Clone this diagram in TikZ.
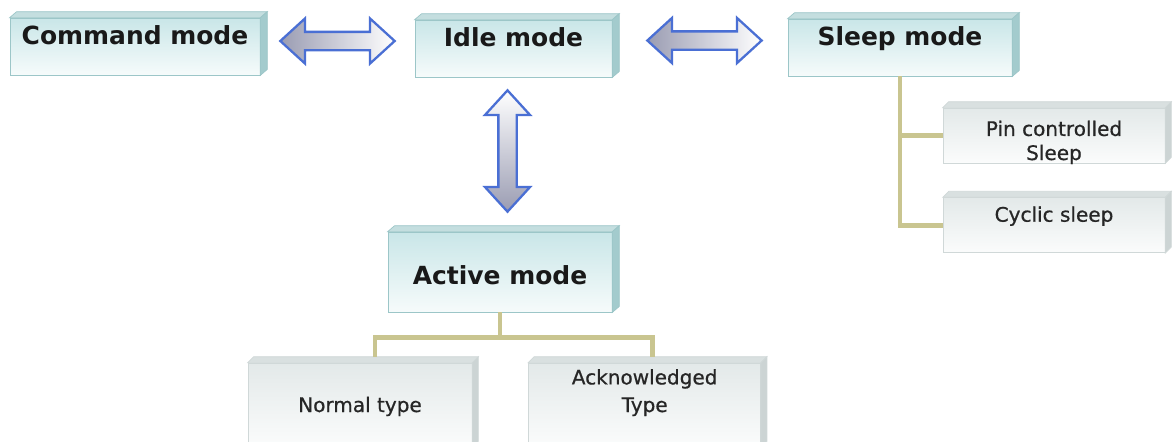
\documentclass[tikz,border=0pt]{standalone}
\usepackage{fontspec}
\setmainfont{DejaVu Sans}
\newfontfamily\typefont{DejaVu Sans}[FakeBold=0.7]
\usepackage{xcolor}
\usepackage{tikz}
\usetikzlibrary{positioning, calc}
\definecolor{modeline}{HTML}{9CC6C8}
\definecolor{modetop}{HTML}{C9E6E8}
\definecolor{modebot}{HTML}{F6FBFB}
\definecolor{modelid}{HTML}{C4DEDF}
\definecolor{modeflank}{HTML}{A3CBCD}
\definecolor{typeline}{HTML}{D0D8D8}
\definecolor{typetop}{HTML}{E3E9E9}
\definecolor{typebot}{HTML}{FBFCFC}
\definecolor{typelid}{HTML}{D9E0E0}
\definecolor{typeflank}{HTML}{CCD4D4}
\definecolor{arrowblue}{HTML}{4A6FD4}
\definecolor{arrowgray}{HTML}{9A9CB2}
\definecolor{branchcol}{HTML}{C9C590}
\tikzstyle{modebox} = [rectangle, draw=modeline, top color=modetop, bottom color=modebot, inner sep=0pt, text centered, text height=0.52cm, text depth=0.62cm, font=\fontsize{14.2}{17}\selectfont\bfseries, text=black!90]
\tikzstyle{typebox} = [rectangle, draw=typeline, top color=typetop, bottom color=typebot, inner sep=0pt, align=center, font=\fontsize{11.4}{13.7}\selectfont\typefont, text=black!85]
\tikzstyle{modelid} = [draw=modeline, fill=modelid, thin]
\tikzstyle{modeflank} = [draw=modeline, fill=modeflank, thin]
\tikzstyle{typelid} = [draw=typeline, fill=typelid, thin]
\tikzstyle{typeflank} = [draw=typeline, fill=typeflank, thin]
\tikzstyle{branch} = [draw=branchcol, line width=2.8pt]
\tikzstyle{bigarrow} = [draw=arrowblue, line width=1.3pt, line join=miter]
% block double arrow between two points
\newcommand{\modearrow}[3][]{%
  \path[bigarrow,#1] let \p1=#2, \p2=#3, \n1={veclen(\x2-\x1,\y2-\y1)}, \n2={atan2(\y2-\y1,\x2-\x1)} in
    [shift={(\p1)}, rotate=\n2]
    (0pt,0pt) -- (14pt,12.8pt) -- (14pt,5.2pt) -- ({\n1-14pt},5.2pt) -- ({\n1-14pt},12.8pt) -- (\n1,0pt)
    -- ({\n1-14pt},-12.8pt) -- ({\n1-14pt},-5.2pt) -- (14pt,-5.2pt) -- (14pt,-12.8pt) -- cycle;}

\begin{document}
\begin{tikzpicture}[x=0.02cm, y=-0.02cm]
    \useasboundingbox (0,0) rectangle (1173,441);
    \clip (0,0) rectangle (1173,441);
    \fill[white] (0,0) rectangle (1173,441);

    \node (cmd) [modebox, minimum width=5cm] at (135,46.5) {Command mode};
    \node (idle) [modebox, minimum width=3.94cm] at (513.5,48.5) {Idle mode};
    \node (sleep) [modebox, minimum width=4.48cm] at (900,47.5) {Sleep mode};
    \node (active) [modebox, minimum width=4.48cm, text height=1.04cm, text depth=0.56cm] at (500,272) {Active mode};

    \node (pin) [typebox, minimum width=4.44cm, text height=1.04cm, text depth=0.06cm] at (1054,135.5) {Pin controlled\\Sleep};
    \node (cyclic) [typebox, minimum width=4.44cm, text height=0.48cm, text depth=0.62cm, below=0.68cm of pin] {Cyclic sleep};
    \node (normal) [typebox, minimum width=4.48cm, text height=0.98cm, text depth=0.7cm] at (360,405) {Normal type};
    \node (ack) [typebox, minimum width=4.64cm, text height=0.98cm, text depth=0.7cm, right=1.12cm of normal] {Acknowledged\\[2pt]Type};

    % 3d faces
    \foreach \b in {cmd,idle,sleep,active}{
        \filldraw[modelid] (\b.north west) -- ++(7,-6) -- ($(\b.north east)+(7,-6)$) -- (\b.north east) -- cycle;
        \filldraw[modeflank] (\b.north east) -- ++(7,-6) -- ($(\b.south east)+(7,-6)$) -- (\b.south east) -- cycle;
    }
    \foreach \b in {pin,cyclic,normal,ack}{
        \filldraw[typelid] (\b.north west) -- ++(6,-6) -- ($(\b.north east)+(6,-6)$) -- (\b.north east) -- cycle;
        \filldraw[typeflank] (\b.north east) -- ++(6,-6) -- ($(\b.south east)+(6,-6)$) -- (\b.south east) -- cycle;
    }

    \modearrow[left color=arrowgray, right color=white]{($(cmd.east)+(20,-5.5)$)}{($(idle.west)+(-20,-7.5)$)}
    \modearrow[left color=arrowgray, right color=white]{($(idle.east)+(35,-8)$)}{($(sleep.west)+(-26,-7)$)}
    \modearrow[top color=white, bottom color=arrowgray]{($(idle.south)+(-6,13)$)}{($(active.north)+(7.5,-20)$)}

    \draw[branch] (sleep.south) |- (pin.west);
    \draw[branch] (sleep.south) |- (cyclic.west);
    \draw[branch] (active.south) -- ++(0,25) coordinate (split);
    \draw[branch] (split) -| ($(normal.north)+(15,-6)$);
    \draw[branch] (split) -| ($(ack.north)+(8,-6)$);
\end{tikzpicture}
\end{document}
